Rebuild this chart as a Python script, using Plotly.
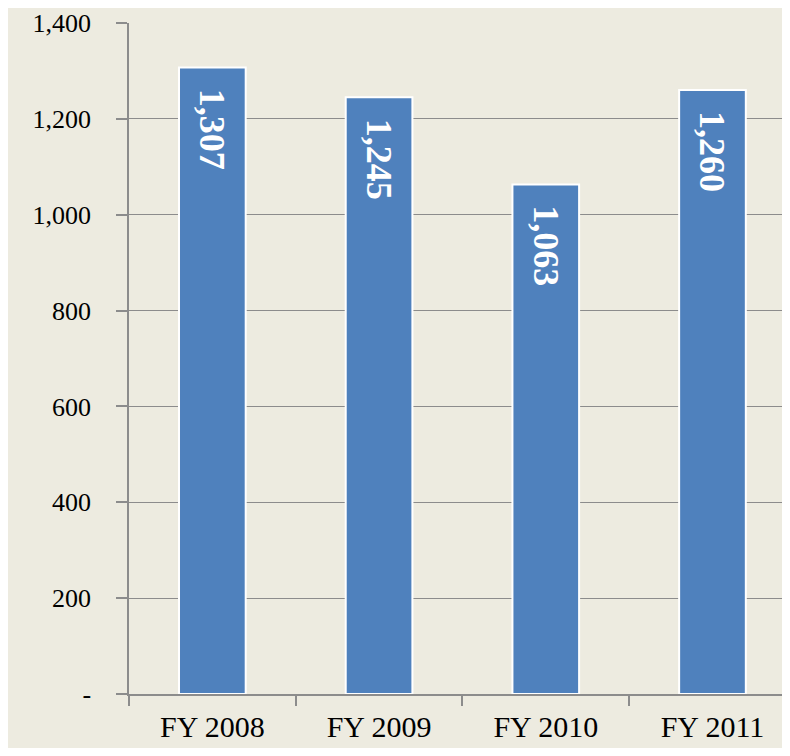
import plotly.graph_objects as go

categories = ["FY 2008", "FY 2009", "FY 2010", "FY 2011"]
values = [1307, 1245, 1063, 1260]
value_labels = ["1,307", "1,245", "1,063", "1,260"]
y_tickvals = [0, 200, 400, 600, 800, 1000, 1200, 1400]
y_ticktext = ["-", "200", "400", "600", "800", "1,000", "1,200", "1,400"]

BG = "#EDEBE0"
FONT = "Liberation Serif"
GRID = "#8C8C8C"

fig = go.Figure(go.Bar(
    x=categories, y=values,
    marker=dict(color="#4F81BD", line=dict(color="white", width=2)),
    width=0.4, hoverinfo="x+y",
))

for c, v, t in zip(categories, values, value_labels):
    fig.add_annotation(
        x=c, y=v, text=t, showarrow=False, textangle=90,
        yanchor="top", yshift=-19,
        font=dict(family=FONT, size=36, color="white", weight="bold"),
    )

fig.update_layout(
    width=774, height=740,
    paper_bgcolor=BG, plot_bgcolor=BG,
    margin=dict(l=121, r=0, t=15, b=54, autoexpand=False),
    showlegend=False,
    font=dict(family=FONT, size=30, color="black"),
)
fig.update_xaxes(
    range=[-0.5, 3.417], showgrid=False,
    showline=True, linecolor=GRID, linewidth=1.5,
    ticks="outside", tickson="boundaries", ticklen=10, tickcolor=GRID,
    tickwidth=1.5, ticklabelstandoff=5, tickfont=dict(size=30),
)
fig.update_yaxes(
    range=[0, 1400], tickvals=y_tickvals, ticktext=y_ticktext,
    showgrid=True, gridcolor=GRID, gridwidth=1,
    showline=True, linecolor=GRID, linewidth=1.5,
    ticks="outside", ticklen=11, tickcolor=GRID, tickwidth=1.5,
    ticklabelstandoff=20, zeroline=False, ticklabeloverflow="allow",
    tickfont=dict(size=26),
)
fig.write_html("out.html")
